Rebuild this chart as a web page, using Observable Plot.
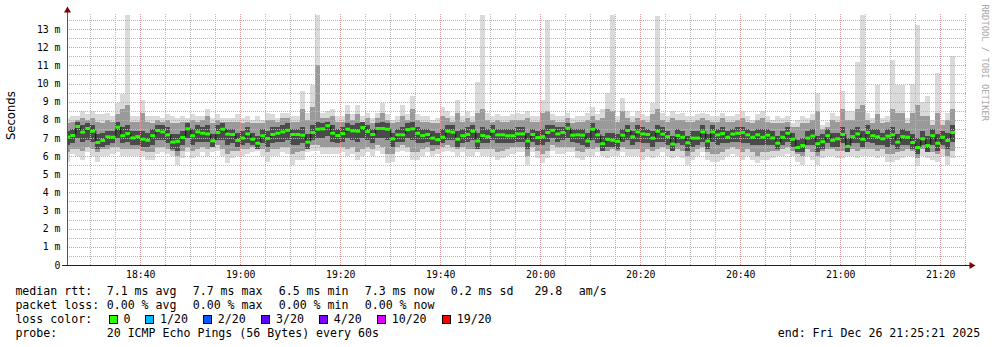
<!DOCTYPE html>
<html><head><meta charset="utf-8">
<script src="https://cdn.jsdelivr.net/npm/d3@7"></script>
<script src="https://cdn.jsdelivr.net/npm/@observablehq/plot@0.6"></script>
<style>
html,body{margin:0;padding:0;background:#fff;}
#wrap{position:relative;width:997px;height:347px;overflow:hidden;background:#fff;}
#chart svg{display:block;}
#legend{position:absolute;left:0;top:280px;width:997px;height:67px;font-family:"DejaVu Sans Mono",monospace;font-size:11.6px;color:#000;}
#legend span{position:absolute;white-space:pre;line-height:14px;}
#legend i{position:absolute;width:9px;height:9px;border:1px solid #000;box-sizing:border-box;}
</style></head>
<body><div id="wrap"><div id="chart"></div><div id="legend"></div></div>
<script>
// ---- data (one sample per minute, starting 18:25 UTC) ----
const median = [
7.07,7.16,7.66,7.35,7.55,7.40,6.78,6.89,7.09,7.07,
7.62,7.15,7.27,7.03,7.10,6.96,6.90,7.15,7.44,7.36,
7.20,6.80,6.84,7.05,7.53,7.15,7.36,7.29,7.25,6.87,
7.33,7.51,7.24,7.22,6.89,7.02,7.25,6.96,6.74,7.15,
7.00,7.22,7.29,7.36,7.45,7.22,7.22,7.18,6.80,7.33,
7.51,7.53,7.70,7.29,7.16,7.27,7.51,7.42,7.40,7.60,
7.38,7.22,7.55,7.55,7.51,6.98,7.20,7.20,7.49,7.53,
7.29,7.16,7.22,7.02,6.93,7.07,7.40,7.35,6.96,7.15,
7.22,7.40,6.86,7.16,7.10,7.40,7.20,7.20,7.15,7.15,
7.25,7.25,6.86,7.22,7.05,7.10,7.33,7.45,7.25,7.33,
7.57,7.18,7.20,7.18,6.86,7.51,7.20,6.71,6.95,6.90,
6.84,7.18,7.44,7.09,7.36,7.25,7.22,7.02,7.40,7.24,
7.10,6.69,7.16,7.07,6.76,7.02,7.02,7.36,6.86,7.36,
7.20,7.27,7.07,7.24,7.29,7.33,7.20,7.07,7.20,7.07,
7.18,7.03,6.74,7.07,7.29,6.96,6.50,6.61,7.02,7.13,
6.71,6.82,7.15,6.90,6.98,7.22,6.56,7.10,7.25,6.96,
7.33,7.15,7.09,6.98,7.13,7.20,6.80,7.10,7.07,6.78,
6.50,6.98,6.61,7.15,6.74,7.07,6.89,7.33];
const pingMax = [
8.1,8.2,8.2,8.5,8.3,8.5,8.3,8.3,8.4,8.2,
8.9,9.4,13.8,8.2,8.2,9.1,8.2,8.2,8.2,8.1,
8.3,8.2,8.1,8.2,8.1,8.3,8.2,8.2,8.6,8.1,
8.3,8.1,8.1,8.1,8.3,8.1,8.2,8.0,8.2,8.0,
8.4,8.3,8.1,8.4,8.4,8.2,8.2,9.6,8.4,9.9,
13.8,8.4,8.5,8.6,8.2,8.2,8.8,8.3,8.8,8.2,
8.4,8.1,8.4,8.9,8.3,8.0,8.2,8.8,8.3,9.3,
8.3,8.2,8.2,8.0,8.1,8.7,8.5,8.2,9.1,8.2,
8.5,8.2,10.1,13.8,8.4,8.2,8.3,8.2,8.2,8.3,
8.4,8.3,8.5,8.2,8.2,9.1,13.5,8.3,8.2,8.2,
8.4,8.1,8.2,8.2,8.4,8.7,8.3,8.6,9.5,13.8,
8.2,9.2,8.5,8.2,8.5,8.3,8.2,8.9,13.7,8.4,
8.2,8.5,8.3,8.4,8.2,8.2,8.3,8.4,8.3,8.2,
8.2,8.4,8.2,8.2,8.3,8.5,8.2,8.0,8.3,8.5,
8.2,8.0,8.2,8.1,8.2,7.8,8.0,8.2,8.1,8.3,
9.5,7.7,7.9,8.4,8.2,9.6,8.5,8.5,11.2,13.8,
8.4,8.1,9.9,8.1,8.2,11.3,9.9,9.9,8.1,10.0,
13.2,9.0,9.3,8.0,10.6,8.0,8.4,11.5];
const pingMin = [
5.7,6.1,6.0,5.8,6.2,6.0,5.7,6.0,6.0,6.1,
6.2,6.0,6.0,6.0,6.0,6.0,5.8,5.8,6.1,6.2,
6.1,6.0,5.5,5.9,6.2,5.9,6.0,6.2,6.0,6.2,
6.3,6.0,5.6,5.9,6.0,6.0,6.1,6.2,6.3,6.0,
5.7,6.0,6.0,6.2,6.1,5.5,5.8,5.8,6.2,6.3,
6.3,6.1,6.1,6.1,6.1,6.2,6.0,6.1,5.8,6.0,
6.2,6.0,6.3,6.1,5.6,5.7,6.2,6.3,6.2,5.8,
5.8,6.0,6.2,6.0,6.1,6.2,6.3,6.2,6.0,6.2,
6.0,6.0,6.2,6.0,6.0,6.0,5.8,5.9,6.0,6.1,
6.2,6.2,5.5,6.2,5.9,5.6,5.9,6.3,6.1,6.1,
6.2,6.2,5.9,5.8,6.0,6.0,6.2,6.0,5.9,6.0,
6.0,6.2,6.0,6.0,6.0,5.8,6.0,5.9,6.0,6.2,
6.0,5.9,6.0,5.9,5.5,5.8,6.0,6.2,5.8,5.7,
5.7,5.8,6.0,6.1,6.0,5.8,6.0,5.8,5.6,5.8,
5.8,5.9,6.0,6.0,6.1,6.0,5.7,5.5,6.0,5.8,
5.5,5.9,6.0,6.0,5.9,5.9,6.0,6.0,5.9,6.0,
6.0,6.0,5.9,6.0,5.7,5.7,5.8,5.9,6.0,6.0,
5.45,6.0,5.9,5.8,5.7,6.0,5.5,5.9];
const smokeHigh = [
7.8,7.9,8.0,8.1,8.0,8.1,7.9,7.8,8.0,7.9,
8.3,8.6,8.8,7.9,7.9,8.4,7.9,7.8,8.0,7.9,
8.0,7.8,7.8,7.9,7.9,8.0,7.9,8.0,8.2,7.8,
8.0,7.9,7.9,7.9,7.9,7.8,7.9,7.8,7.8,7.8,
8.0,8.0,7.9,8.1,8.1,7.9,7.9,8.6,8.0,8.7,
11.0,8.1,8.1,8.2,7.9,7.9,8.3,8.0,8.3,7.9,
8.1,7.8,8.1,8.4,8.0,7.8,7.9,8.2,8.0,8.6,
8.0,7.9,7.9,7.8,7.8,8.2,8.1,7.9,8.4,7.9,
8.1,7.9,8.4,8.6,8.0,7.9,8.0,7.9,7.9,8.0,
8.0,8.0,8.1,7.9,7.9,8.4,8.5,8.0,7.9,7.9,
8.1,7.8,7.9,7.9,8.0,8.2,8.0,8.1,8.6,8.5,
7.9,8.5,8.1,7.9,8.1,8.0,7.9,8.3,8.6,8.0,
7.9,8.1,8.0,8.0,7.9,7.9,8.0,8.1,8.0,7.9,
7.9,8.1,7.9,7.9,8.0,8.1,7.9,7.8,8.0,8.1,
7.9,7.8,7.8,7.8,7.9,7.6,7.6,7.8,7.8,8.0,
8.5,7.5,7.6,8.0,7.9,8.6,8.0,8.0,8.6,8.8,
8.0,7.8,8.3,7.8,7.9,8.6,8.4,8.4,7.8,8.4,
8.8,8.2,8.2,7.7,8.4,7.7,8.0,8.6];
const smokeLow = [
6.2,6.4,6.4,6.3,6.5,6.4,6.2,6.4,6.4,6.5,
6.5,6.4,6.4,6.4,6.4,6.3,6.2,6.2,6.5,6.5,
6.4,6.3,6.0,6.3,6.5,6.3,6.4,6.5,6.4,6.5,
6.6,6.4,6.1,6.3,6.3,6.4,6.4,6.5,6.5,6.4,
6.2,6.4,6.4,6.5,6.5,6.1,6.2,6.3,6.5,6.6,
6.6,6.5,6.5,6.5,6.5,6.5,6.4,6.5,6.2,6.4,
6.5,6.4,6.6,6.5,6.1,6.1,6.5,6.6,6.5,6.2,
6.2,6.4,6.5,6.3,6.4,6.5,6.6,6.5,6.4,6.5,
6.4,6.4,6.5,6.4,6.4,6.4,6.2,6.3,6.4,6.5,
6.5,6.5,6.0,6.5,6.3,6.1,6.3,6.6,6.5,6.5,
6.5,6.5,6.3,6.2,6.4,6.4,6.5,6.4,6.3,6.4,
6.3,6.5,6.4,6.4,6.4,6.2,6.4,6.3,6.4,6.5,
6.4,6.3,6.4,6.3,6.0,6.2,6.4,6.5,6.2,6.1,
6.1,6.2,6.4,6.5,6.4,6.2,6.4,6.2,6.0,6.2,
6.2,6.3,6.3,6.4,6.5,6.3,6.1,6.0,6.4,6.2,
6.0,6.3,6.4,6.4,6.3,6.3,6.3,6.4,6.3,6.4,
6.4,6.4,6.3,6.4,6.1,6.1,6.2,6.3,6.4,6.3,
5.9,6.4,6.3,6.2,6.1,6.4,6.0,6.3];
const coreHigh = [
7.4,7.5,7.9,7.7,7.8,7.7,7.2,7.3,7.4,7.4,
7.9,7.6,7.7,7.4,7.4,7.4,7.3,7.5,7.7,7.7,
7.6,7.2,7.2,7.4,7.8,7.5,7.7,7.6,7.7,7.2,
7.7,7.8,7.5,7.5,7.3,7.4,7.6,7.3,7.1,7.5,
7.4,7.6,7.6,7.7,7.8,7.5,7.5,7.6,7.2,7.7,
7.9,7.8,7.9,7.7,7.5,7.6,7.8,7.7,7.8,7.9,
7.7,7.5,7.8,7.9,7.8,7.3,7.5,7.6,7.8,7.9,
7.6,7.5,7.5,7.4,7.3,7.5,7.7,7.7,7.4,7.5,
7.6,7.7,7.3,7.6,7.5,7.7,7.5,7.5,7.5,7.5,
7.6,7.6,7.3,7.5,7.4,7.5,7.7,7.7,7.6,7.6,
7.8,7.5,7.5,7.5,7.3,7.8,7.5,7.1,7.3,7.3,
7.2,7.5,7.7,7.4,7.7,7.6,7.5,7.4,7.7,7.6,
7.4,7.1,7.5,7.4,7.1,7.4,7.4,7.7,7.2,7.7,
7.5,7.6,7.4,7.5,7.6,7.6,7.5,7.4,7.5,7.5,
7.5,7.4,7.1,7.4,7.6,7.3,6.9,7.0,7.4,7.5,
7.1,7.2,7.5,7.3,7.3,7.6,7.0,7.5,7.6,7.4,
7.7,7.5,7.5,7.3,7.5,7.6,7.2,7.5,7.4,7.2,
7.0,7.4,7.1,7.5,7.2,7.4,7.3,7.7];
const coreLow = [
6.6,6.7,7.0,6.8,6.9,6.8,6.4,6.5,6.6,6.7,
7.0,6.7,6.8,6.6,6.6,6.5,6.5,6.6,6.9,6.9,
6.7,6.4,6.3,6.6,7.0,6.6,6.8,6.8,6.8,6.5,
6.9,6.9,6.6,6.7,6.5,6.6,6.7,6.6,6.4,6.7,
6.5,6.7,6.8,6.8,6.9,6.6,6.6,6.7,6.4,6.9,
7.0,7.0,7.1,6.8,6.7,6.8,7.0,6.9,6.8,7.0,
6.9,6.7,7.0,7.0,6.9,6.5,6.8,6.8,7.0,6.9,
6.7,6.7,6.8,6.6,6.6,6.7,6.9,6.9,6.5,6.7,
6.8,6.9,6.4,6.7,6.7,6.9,6.7,6.7,6.7,6.7,
6.8,6.8,6.4,6.8,6.6,6.6,6.8,7.0,6.8,6.9,
7.0,6.8,6.7,6.6,6.5,6.9,6.7,6.3,6.5,6.5,
6.4,6.8,6.9,6.6,6.8,6.7,6.7,6.5,6.8,6.8,
6.6,6.3,6.7,6.6,6.3,6.5,6.6,6.8,6.4,6.8,
6.6,6.7,6.7,6.8,6.8,6.7,6.7,6.6,6.6,6.6,
6.6,6.6,6.4,6.6,6.8,6.5,6.2,6.2,6.6,6.6,
6.2,6.4,6.7,6.5,6.5,6.7,6.2,6.7,6.7,6.5,
6.8,6.7,6.6,6.6,6.5,6.6,6.4,6.6,6.6,6.4,
6.1,6.6,6.2,6.6,6.3,6.6,6.4,6.8];

const xTickLabels = ["18:40","19:00","19:20","19:40","20:00","20:20","20:40","21:00","21:20"];
const yTickValues = [0,1,2,3,4,5,6,7,8,9,10,11,12,13];
const yTickLabels = ["0","1 m","2 m","3 m","4 m","5 m","6 m","7 m","8 m","9 m","10 m","11 m","12 m","13 m"];

const statLine1 = ["median rtt:","7.1 ms avg","7.7 ms max","6.5 ms min","7.3 ms now","0.2 ms sd","29.8","am/s"];
const statLine2 = ["packet loss:","0.00 % avg","0.00 % max","0.00 % min","0.00 % now"];
const lossLabels = ["0","1/20","2/20","3/20","4/20","10/20","19/20"];
const lossColors = ["#26ff00","#00b8ff","#0059ff","#5e00ff","#7e00ff","#dd00ff","#ff0000"];
const probeLine = ["probe:","20 ICMP Echo Pings (56 Bytes) every 60s"];
const endLabel = "end: Fri Dec 26 21:25:21 2025";

// ---- build ----
const day = (h, m, s = 0) => new Date(Date.UTC(2025, 11, 26, h, m, s));
const T0 = day(18, 25).getTime();
const rows = median.map((m, i) => ({
  t0: new Date(T0 + i * 60000), t1: new Date(T0 + (i + 1) * 60000),
  med: m, prev: i ? median[i - 1] : m,
  lo: pingMin[i], hi: pingMax[i], lo2: smokeLow[i], hi2: smokeHigh[i], lo3: coreLow[i], hi3: coreHigh[i]
}));
const xStart = day(18, 25, 21), xEnd = day(21, 25, 21);
const xTicks = xTickLabels.map(s => { const [h, m] = s.split(":").map(Number); return day(h, m); });
const xMinor = d3.utcMinute.every(5).range(xStart, xEnd);
const yMinor = d3.range(0.5, 13.6, 0.5);
const xLab = new Map(xTicks.map((d, i) => [+d, xTickLabels[i]]));
const yLab = new Map(yTickValues.map((d, i) => [d, yTickLabels[i]]));

const grid = {strokeDasharray: "1,1", strokeWidth: 1, shapeRendering: "crispEdges"};
const chart = Plot.plot({
  width: 997, height: 280,
  marginLeft: 67, marginRight: 30, marginTop: 14, marginBottom: 15,
  style: {fontFamily: "DejaVu Sans Mono", fontSize: "9.8px", background: "white", color: "#000", overflow: "visible"},
  x: {type: "utc", domain: [xStart, xEnd]},
  y: {domain: [0, 13.83]},
  marks: [
    Plot.rect(rows, {x1: "t0", x2: "t1", y1: "lo", y2: "hi", fill: "#dadada", clip: true, shapeRendering: "crispEdges"}),
    Plot.rect(rows, {x1: "t0", x2: "t1", y1: "lo2", y2: "hi2", fill: "#9a9a9a", clip: true, shapeRendering: "crispEdges"}),
    Plot.rect(rows, {x1: "t0", x2: "t1", y1: "lo3", y2: "hi3", fill: "#4a4a4a", clip: true, shapeRendering: "crispEdges"}),
    Plot.ruleY(yMinor.filter(v => v % 1 !== 0), {stroke: "#b8b8b8", ...grid}),
    Plot.ruleX(xMinor, {stroke: "#b8b8b8", ...grid}),
    Plot.ruleY(yTickValues.slice(1), {stroke: "#df9e9e", ...grid}),
    Plot.ruleX(xTicks, {stroke: "#df9e9e", ...grid}),
    Plot.ruleX(rows.slice(1), {x: "t0", y1: "prev", y2: "med", stroke: "#111", strokeWidth: 1, clip: true}),
    Plot.ruleY(rows, {x1: "t0", x2: "t1", y: "med", stroke: "#26ff00", strokeWidth: 3, clip: true}),
    Plot.ruleY([0], {stroke: "#222", insetLeft: -5, insetRight: -4}),
    Plot.ruleX([xStart], {stroke: "#555", insetTop: -5}),
    Plot.dot([0], {frameAnchor: "bottom-right", symbol: "triangle", rotate: 90, r: 2.6, fill: "#7f0000", dx: 4}),
    Plot.dot([0], {frameAnchor: "top-left", symbol: "triangle", r: 2.6, fill: "#7f0000", dy: -4}),
    Plot.axisX(xTicks, {tickSize: 0, tickPadding: 6, tickFormat: d => xLab.get(+d), fill: "#000", label: null}),
    Plot.axisY(yTickValues, {tickSize: 0, tickPadding: 7, tickFormat: d => yLab.get(d), fill: "#000", label: null}),
    Plot.text(["Seconds"], {frameAnchor: "left", text: d => d, rotate: -90, dx: -56, fontFamily: "DejaVu Sans", fontSize: 11.6, fill: "#000"}),
    Plot.text(["RRDTOOL / TOBI OETIKER"], {frameAnchor: "top-right", text: d => d, rotate: 90, textAnchor: "start", dx: 21, dy: -10, fontSize: 8.8, fill: "#a8a8a8"})
  ]
});
document.getElementById("chart").append(chart);

// ---- legend text below the graph ----
const leg = document.getElementById("legend");
const put = (txt, x, top) => { const s = document.createElement("span"); s.textContent = txt; s.style.left = x + "px"; s.style.top = top + "px"; leg.append(s); };
const tops = [4.3, 18.1, 31.9, 45.7];
[15.4, 106.7, 192.7, 278.7, 364.7, 450.7, 534.4, 578.7].forEach((x, i) => put(statLine1[i], x, tops[0]));
[15.4, 106.7, 192.7, 278.7, 364.7].forEach((x, i) => put(statLine2[i], x, tops[1]));
put("loss color:", 15.4, tops[2]);
[124, 160.7, 218.3, 276.7, 334.3, 392.3, 457.3].forEach((x, i) => {
  const b = document.createElement("i"); b.style.left = (x - 15.5) + "px"; b.style.top = "35px"; b.style.background = lossColors[i]; leg.append(b);
  put(lossLabels[i], x - 0.6, tops[2]);
});
put(probeLine[0], 15.4, tops[3]);
put(probeLine[1], 106.7, tops[3]);
put(endLabel, 777.7, tops[3]);
</script>
</body></html>
